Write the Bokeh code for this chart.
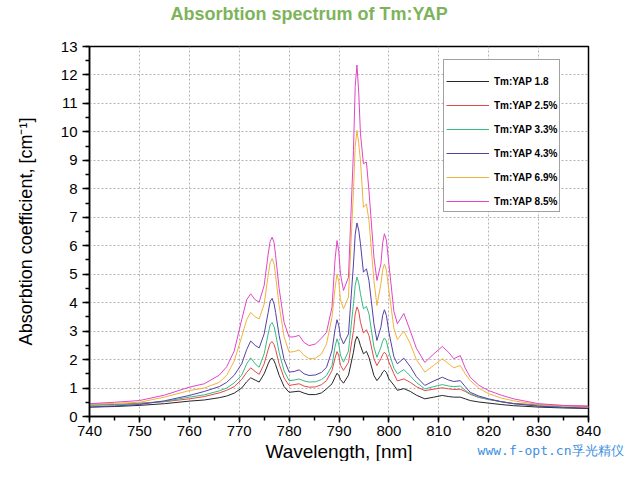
from bokeh.plotting import figure
from bokeh.models import Range1d, SingleIntervalTicker, Legend, LegendItem, Title
from bokeh.embed import file_html
from bokeh.resources import INLINE

wavelength = [740, 745, 750, 755, 760, 763, 766, 767.5, 769, 770.5,
              771.5, 772.3, 773.2, 774, 775, 775.8, 776.2, 776.6, 777.0, 777.3,
              778, 779, 780, 781, 782, 783, 784, 785.3, 786.5, 787.5,
              788.6, 789.2, 789.6, 789.95, 790.3, 790.9, 791.9, 792.9, 793.25, 793.6,
              793.95, 794.3, 794.9, 795.5, 796, 797, 797.6, 798.4, 798.75, 799.1,
              799.5, 800, 801, 801.7, 803, 804.3, 805.5, 807.2, 809, 810.7,
              812, 813, 814.3, 815.3, 816.3, 818, 820, 822.5, 825, 830,
              835, 840]

yap_1_8 = [0.33, 0.35, 0.39, 0.45, 0.54, 0.58, 0.66, 0.72, 0.82, 1.00,
           1.22, 1.36, 1.28, 1.21, 1.50, 1.85, 2.00, 2.05, 1.95, 1.82,
           1.45, 1.05, 0.85, 0.87, 0.89, 0.82, 0.77, 0.77, 0.83, 0.97,
           1.15, 1.38, 1.52, 1.45, 1.30, 1.17, 1.45, 2.26, 2.65, 2.81,
           2.70, 2.49, 2.20, 2.29, 2.08, 1.44, 1.26, 1.44, 1.56, 1.62,
           1.55, 1.32, 1.10, 0.92, 0.98, 0.88, 0.75, 0.62, 0.68, 0.74,
           0.70, 0.68, 0.68, 0.62, 0.56, 0.51, 0.47, 0.42, 0.38, 0.33,
           0.30, 0.28]

yap_2_5 = [0.41, 0.42, 0.47, 0.52, 0.62, 0.70, 0.83, 0.92, 1.05, 1.30,
           1.55, 1.71, 1.58, 1.48, 1.85, 2.35, 2.57, 2.63, 2.52, 2.35,
           1.85, 1.35, 1.09, 1.12, 1.15, 1.07, 1.03, 1.04, 1.12, 1.26,
           1.62, 2.05, 2.28, 2.15, 1.80, 1.62, 1.90, 3.02, 3.60, 3.85,
           3.70, 3.31, 2.93, 3.05, 2.85, 2.03, 1.79, 2.03, 2.18, 2.26,
           2.18, 1.91, 1.50, 1.25, 1.32, 1.20, 1.05, 0.91, 0.96, 1.01,
           0.97, 0.95, 0.96, 0.88, 0.78, 0.67, 0.60, 0.52, 0.46, 0.41,
           0.38, 0.37]

yap_3_3 = [0.39, 0.41, 0.45, 0.53, 0.68, 0.76, 0.90, 1.00, 1.18, 1.45,
           1.85, 2.06, 1.85, 1.73, 2.20, 2.90, 3.22, 3.30, 3.15, 2.90,
           2.25, 1.60, 1.26, 1.28, 1.32, 1.25, 1.21, 1.22, 1.30, 1.44,
           1.79, 2.45, 2.73, 2.55, 2.15, 1.91, 2.30, 3.96, 4.60, 4.90,
           4.70, 4.31, 3.78, 3.87, 3.61, 2.44, 2.08, 2.44, 2.65, 2.76,
           2.65, 2.26, 1.70, 1.50, 1.65, 1.42, 1.20, 0.97, 1.05, 1.12,
           1.07, 1.05, 1.07, 0.92, 0.80, 0.68, 0.60, 0.52, 0.45, 0.38,
           0.34, 0.32]

yap_4_3 = [0.33, 0.37, 0.42, 0.55, 0.74, 0.88, 1.05, 1.20, 1.45, 1.85,
           2.35, 2.65, 2.50, 2.41, 2.90, 3.65, 4.05, 4.15, 3.95, 3.65,
           2.85, 2.00, 1.56, 1.58, 1.64, 1.50, 1.44, 1.46, 1.55, 1.73,
           2.32, 3.05, 3.40, 3.20, 2.80, 2.55, 2.90, 5.36, 6.40, 6.80,
           6.55, 6.07, 5.07, 5.19, 4.78, 3.26, 2.67, 3.14, 3.55, 3.75,
           3.55, 2.96, 2.10, 1.85, 2.05, 1.75, 1.40, 1.09, 1.25, 1.38,
           1.28, 1.23, 1.26, 1.05, 0.85, 0.72, 0.62, 0.52, 0.45, 0.36,
           0.32, 0.30]

yap_6_9 = [0.43, 0.46, 0.50, 0.68, 0.91, 1.00, 1.20, 1.45, 1.95, 2.80,
           3.40, 3.66, 3.50, 3.43, 3.95, 4.95, 5.40, 5.55, 5.35, 4.95,
           3.90, 2.80, 2.26, 2.28, 2.34, 2.15, 2.03, 2.05, 2.20, 2.55,
           3.49, 4.50, 5.00, 4.75, 4.10, 3.78, 4.20, 7.94, 9.50, 10.05,
           9.60, 8.99, 7.35, 7.47, 6.89, 4.78, 3.90, 4.66, 5.15, 5.36,
           5.15, 4.43, 3.10, 2.70, 3.00, 2.55, 2.00, 1.56, 1.80, 2.03,
           1.85, 1.71, 1.79, 1.50, 1.26, 1.00, 0.80, 0.65, 0.55, 0.42,
           0.37, 0.33]

yap_8_5 = [0.45, 0.50, 0.56, 0.75, 1.03, 1.15, 1.45, 1.75, 2.30, 3.40,
           4.10, 4.31, 4.10, 4.02, 4.60, 5.70, 6.15, 6.30, 6.10, 5.65,
           4.50, 3.30, 2.79, 2.80, 2.85, 2.60, 2.49, 2.55, 2.75, 2.96,
           3.84, 5.50, 6.18, 5.80, 5.00, 4.43, 4.89, 9.35, 11.60, 12.35,
           11.40, 9.93, 8.88, 8.94, 7.94, 5.60, 4.78, 5.36, 6.10, 6.42,
           6.20, 5.36, 3.70, 3.26, 3.62, 3.00, 2.40, 1.90, 2.20, 2.46,
           2.25, 2.03, 2.14, 1.70, 1.38, 1.10, 0.91, 0.75, 0.62, 0.45,
           0.39, 0.35]

series_labels = ["Tm:YAP 1.8", "Tm:YAP 2.5%", "Tm:YAP 3.3%",
                 "Tm:YAP 4.3%", "Tm:YAP 6.9%", "Tm:YAP 8.5%"]
series_values = [yap_1_8, yap_2_5, yap_3_3, yap_4_3, yap_6_9, yap_8_5]
series_colors = ["#262626", "#e24848", "#35bb84", "#5440a6", "#f0b23e", "#e046c6"]

FONT = "Liberation Sans"

p = figure(width=625, height=461, output_backend="svg", toolbar_location=None,
           x_range=Range1d(740, 840), y_range=Range1d(0, 13),
           min_border_left=89, min_border_right=37,
           min_border_top=46, min_border_bottom=45,
           background_fill_color="white", border_fill_color="white")

p.title.text = "Absorbtion spectrum of Tm:YAP\n "
p.title.align = "left"
p.title.vertical_align = "top"
p.title.offset = 81
p.title.text_font = FONT
p.title.text_font_size = "18px"
p.title.text_font_style = "bold"
p.title.text_color = "#7db45a"
p.title.standoff = 1

p.outline_line_color = "black"
p.outline_line_width = 1.5
p.outline_line_alpha = 1.0

p.xaxis.ticker = SingleIntervalTicker(interval=10, num_minor_ticks=2)
p.yaxis.ticker = SingleIntervalTicker(interval=1, num_minor_ticks=2)

for ax in (p.xaxis[0], p.yaxis[0]):
    ax.axis_line_color = "black"
    ax.axis_line_width = 1.5
    ax.major_tick_line_color = "black"
    ax.major_tick_line_width = 1.5
    ax.minor_tick_line_color = "black"
    ax.minor_tick_line_width = 1.5
    ax.major_tick_in = 0
    ax.minor_tick_in = 0
    ax.minor_tick_out = 4
    ax.major_label_text_font = FONT
    ax.major_label_text_font_size = "15px"
    ax.major_label_text_color = "black"
    ax.axis_label_text_font = FONT
    ax.axis_label_text_font_size = "18px"
    ax.axis_label_text_font_style = "normal"
    ax.axis_label_text_color = "black"

p.xaxis.major_tick_out = 6
p.yaxis.major_tick_out = 7
p.xaxis.major_label_standoff = 3
p.yaxis.major_label_standoff = 5
p.yaxis.axis_label = "Absorbtion coefficient, [cm\u207b\u00b9]"
p.yaxis.axis_label_standoff = 22

for g in (p.xgrid[0], p.ygrid[0]):
    g.grid_line_color = "#b4b4b4"
    g.grid_line_dash = "2 2"
    g.grid_line_width = 1

items = []
for lab, vals, col in zip(series_labels, series_values, series_colors):
    r = p.line(wavelength, vals, line_color=col, line_width=1)
    items.append(LegendItem(label=lab, renderers=[r]))

legend = Legend(items=items, location=(354, 204),
                title=" ", title_text_font_size="8px", title_standoff=2,
                padding=2, spacing=8, glyph_width=43, glyph_height=16,
                label_standoff=5, label_text_font=FONT,
                label_text_font_size="10px", label_text_font_style="bold",
                label_text_color="black", border_line_color="#444444",
                border_line_width=1, background_fill_color="white",
                background_fill_alpha=1.0, margin=0)
p.add_layout(legend)

xlab = Title(text=" \nWavelength, [nm]", align="center", vertical_align="bottom",
             text_font=FONT, text_font_size="19px", text_font_style="normal",
             text_color="black", standoff=-46)
p.add_layout(xlab, "below")

wm = Title(text=" \nwww.f-opt.cn\u5b5a\u5149\u7cbe\u4eea", align="right",
           vertical_align="bottom", offset=-35,
           text_font="DejaVu Sans Mono", text_font_size="13px",
           text_font_style="normal", text_color="#3d8fe0", standoff=-25)
p.add_layout(wm, "below")

open("out.html", "w").write(file_html(p, INLINE))
